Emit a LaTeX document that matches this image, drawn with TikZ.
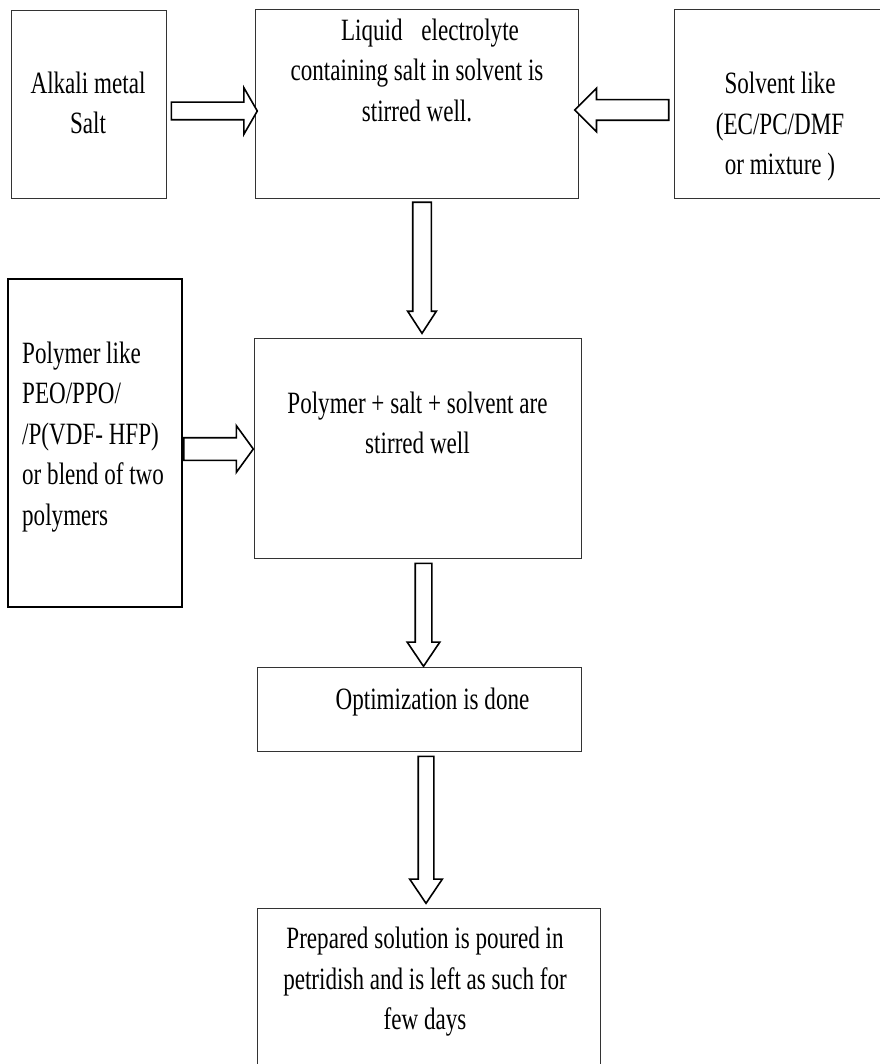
\documentclass[tikz,border=0pt]{standalone}
\usepackage{fontspec}
\setmainfont{Liberation Serif}[FakeStretch=0.745]
\usetikzlibrary{shapes.arrows,calc}
\tikzset{
  box/.style={draw=black!80, line width=1pt, inner sep=0pt},
  thickbox/.style={box, draw=black, line width=2pt},
  boxtext/.style={align=center, inner sep=0pt, font=\fontsize{31}{40.5}\selectfont},
  blockarrow/.style={single arrow, draw=black, line width=1.6pt, fill=white,
    inner xsep=0pt, minimum width=0pt},
}
% hollow block arrow from #2 to #3, named #1, extra options #4
\newcommand{\hollowarrow}[4]{%
  \path let \p1=(#2), \p2=(#3), \n1={veclen(\x2-\x1,\y2-\y1)} in
    (\p1) -- (\p2) node[pos=0, anchor=tail, sloped, allow upside down, blockarrow,
      minimum height=\n1, #4] (#1) {};
}

\begin{document}
\begin{tikzpicture}[x=1pt, y=-1pt]
\useasboundingbox (0,0) rectangle (879,1064);

% boxes
\node[box, minimum width=155pt, minimum height=188pt] (alkali) at (88.5,105) {};
\node[box, minimum width=323pt, minimum height=189pt] (liquid) at (416.5,104.5) {};
\node[box, minimum width=214pt, minimum height=189pt] (solvent) at (781,104.5) {};
\node[thickbox, minimum width=174pt, minimum height=328pt] (blend) at (95,443) {};
\node[box, minimum width=327pt, minimum height=220pt] (mixing) at (417.5,448) {};
\node[box, minimum width=324pt, minimum height=84pt] (optim) at (419,709) {};
\node[box, minimum width=343pt, minimum height=164pt] (pour) at (428.5,990) {};

% texts
\node[boxtext] (alkalitext) at (88,103) {Alkali metal\\Salt};
\node[boxtext] (liquidtext) at (417,70) {\hspace*{26pt}Liquid\hspace{13pt} electrolyte\\containing salt in solvent is\\stirred well.};
\node[boxtext] (solventtext) at (780,127) {Solvent like\\(EC/PC/DMF\\or mixture )};
\node[boxtext, align=left, anchor=west] (blendtext) at (22,437) {Polymer like\\PEO/PPO/\\/P(VDF- HFP)\\or blend of two\\polymers};
\node[boxtext] (mixingtext) at (417.5,423) {Polymer + salt + solvent are\\stirred well};
\node[boxtext] (optimtext) at (432.5,702) {Optimization is done};
\node[boxtext] (pourtext) at (425,982) {Prepared solution is poured in\\petridish and is left as such for\\few days};

% connectors
\hollowarrow{saltin}{$(alkali.east)+(4,6)$}{$(liquid.west)+(2,6.5)$}{inner ysep=8pt, single arrow head extend=14.5pt, single arrow tip angle=120}
\hollowarrow{solventin}{$(solvent.west)+(-4,5.5)$}{$(liquid.east)+(-3,5.5)$}{inner ysep=9.5pt, single arrow head extend=11.5pt, single arrow tip angle=90}
\hollowarrow{liquidout}{$(liquid.south)+(5.5,2)$}{$(mixing.north)+(4.5,-5)$}{inner ysep=8.5pt, single arrow head extend=5pt, single arrow tip angle=66}
\hollowarrow{polymerin}{$(blend.east)+(0,6)$}{$(mixing.west)+(-1,1)$}{inner ysep=10.5pt, single arrow head extend=12pt, single arrow tip angle=108}
\hollowarrow{mixout}{$(mixing.south)+(6,4)$}{$(optim.north)+(4.5,-1)$}{inner ysep=7.5pt, single arrow head extend=8pt, single arrow tip angle=68}
\hollowarrow{optout}{$(optim.south)+(7,4)$}{$(pour.north)+(-2.5,-5)$}{inner ysep=7pt, single arrow head extend=8.5pt, single arrow tip angle=68}

\end{tikzpicture}
\end{document}
